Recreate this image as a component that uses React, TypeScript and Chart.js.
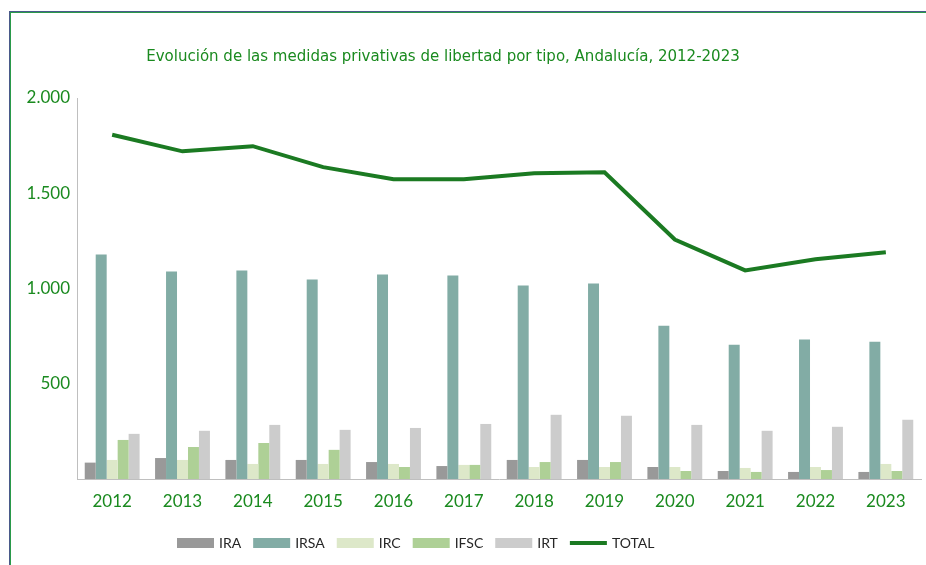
import React, { useEffect, useRef } from "react";
import { Chart, registerables } from "chart.js";

Chart.register(...registerables);

const TITLE = "Evolución de las medidas privativas de libertad por tipo, Andalucía, 2012-2023";
const years = ["2012", "2013", "2014", "2015", "2016", "2017", "2018", "2019", "2020", "2021", "2022", "2023"];
const ira = [86, 110, 100, 100, 89, 68, 100, 100, 63, 42, 37, 37];
const irsa = [1179, 1089, 1095, 1047, 1074, 1068, 1016, 1026, 805, 705, 732, 721];
const irc = [100, 100, 79, 79, 79, 74, 63, 63, 63, 58, 63, 79];
const ifsc = [205, 168, 189, 153, 63, 74, 89, 89, 42, 37, 47, 42];
const irt = [237, 253, 284, 258, 268, 289, 337, 332, 284, 253, 274, 311];
const total = [1807, 1720, 1747, 1637, 1573, 1573, 1605, 1610, 1257, 1095, 1153, 1190];

const GREEN = "#1a8a1f";
const LINE_GREEN = "#1b7a22";
const AXIS_GRAY = "#bfbfbf";

const fmt = (v: number) => String(v).replace(/\B(?=(\d{3})+(?!\d))/g, ".");

const decorPlugin = {
  id: "decor",
  afterDraw(chart: any) {
    const ctx = chart.ctx as CanvasRenderingContext2D;
    ctx.save();
    ctx.font = '16.7px "Liberation Sans Narrow", "DejaVu Sans Condensed", "Liberation Sans", sans-serif';
    ctx.fillStyle = GREEN;
    ctx.textAlign = "center";
    ctx.textBaseline = "middle";
    ctx.fillText(TITLE, 443, 57);

    // legend
    ctx.font = '14px Lato, "Noto Sans", sans-serif';
    ctx.textAlign = "left";
    let x = 177;
    const y = 543;
    const boxW = 37;
    chart.data.datasets.forEach((ds: any) => {
      if (ds.type === "line") {
        ctx.fillStyle = ds.borderColor;
        ctx.fillRect(x, y - 2, boxW, 4);
      } else {
        ctx.fillStyle = ds.backgroundColor;
        ctx.fillRect(x, y - 5, boxW, 10);
      }
      x += boxW + 5;
      ctx.fillStyle = "#262626";
      ctx.fillText(ds.label, x, y);
      x += ctx.measureText(ds.label).width + 12;
    });
    ctx.restore();
  },
};

export default function App() {
  const ref = useRef<HTMLCanvasElement | null>(null);

  useEffect(() => {
    if (!ref.current) return;
    const barDs = (label: string, data: number[], color: string) => ({
      type: "bar" as const,
      label,
      data,
      backgroundColor: color,
      borderWidth: 0,
      categoryPercentage: 0.78,
      barPercentage: 1.0,
    });
    const chart = new Chart(ref.current, {
      type: "bar",
      data: {
        labels: years,
        datasets: [
          barDs("IRA", ira, "#999999"),
          barDs("IRSA", irsa, "#82aca5"),
          barDs("IRC", irc, "#dde8c9"),
          barDs("IFSC", ifsc, "#aed096"),
          barDs("IRT", irt, "#cccccc"),
          {
            type: "line" as const,
            label: "TOTAL",
            data: total,
            borderColor: LINE_GREEN,
            backgroundColor: LINE_GREEN,
            borderWidth: 4,
            pointRadius: 0,
            tension: 0,
            order: -1,
          } as any,
        ],
      },
      options: {
        responsive: false,
        animation: false,
        layout: { padding: { left: 0, right: 5, top: 98, bottom: 56 } },
        plugins: {
          legend: { display: false },
          title: { display: false },
          tooltip: { enabled: false },
        },
        scales: {
          x: {
            grid: { display: false, drawTicks: false },
            border: { display: true, color: AXIS_GRAY, width: 1 },
            ticks: {
              color: GREEN,
              font: { family: 'Lato, "Noto Sans", sans-serif', size: 17 },
              padding: 12,
              maxRotation: 0,
            },
            afterFit: (s: any) => {
              s.height = 30;
            },
          },
          y: {
            min: 0,
            max: 2000,
            grid: { display: false, drawTicks: false },
            border: { display: true, color: AXIS_GRAY, width: 1 },
            ticks: {
              stepSize: 500,
              color: GREEN,
              font: { family: 'Lato, "Noto Sans", sans-serif', size: 17 },
              padding: 7,
              callback: (v: any) => (Number(v) === 0 ? "" : fmt(Number(v))),
            },
            afterFit: (s: any) => {
              s.width = 77;
            },
          },
        },
      },
      plugins: [decorPlugin],
    });
    return () => chart.destroy();
  }, []);

  return (
    <div style={{ position: "absolute", left: 0, top: 0, width: 926, height: 565, overflow: "hidden", background: "#fff" }}>
      <div
        style={{
          position: "absolute",
          left: 9,
          top: 11,
          width: 940,
          height: 600,
          borderLeft: "1px solid #4a5a8a",
          borderTop: "1px solid #4a5a8a",
        }}
      >
        <div style={{ width: "100%", height: "100%", borderLeft: "1px solid #2a9a4a", borderTop: "1px solid #2a9a4a" }} />
      </div>
      <canvas ref={ref} width={926} height={565} style={{ position: "absolute", left: 0, top: 0, display: "block" }} />
    </div>
  );
}
